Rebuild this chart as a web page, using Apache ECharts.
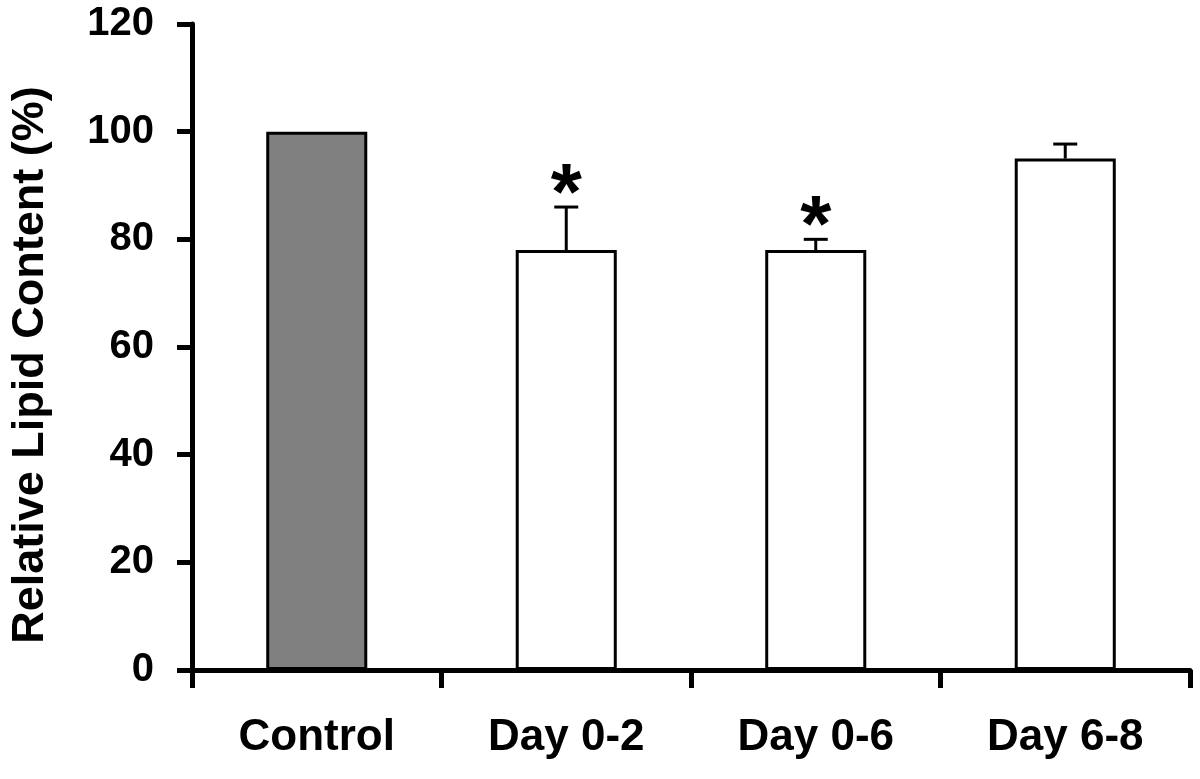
<!DOCTYPE html>
<html>
<head>
<meta charset="utf-8">
<script src="https://cdn.jsdelivr.net/npm/echarts@6/dist/echarts.min.js"></script>
<style>
html,body{margin:0;padding:0;background:#fff;}
#chart{width:1200px;height:779px;}
</style>
</head>
<body>
<div id="chart"></div>
<script>
var categories = ['Control', 'Day 0-2', 'Day 0-6', 'Day 6-8'];
var values = [100, 78, 78, 95];
var errors = [0, 8, 2, 2.7];
var marks = ['', '*', '*', ''];
var barColors = ['#808080', '#ffffff', '#ffffff', '#ffffff'];
var yTicks = [0, 20, 40, 60, 80, 100, 120];

var FONT = "'Liberation Sans', Arial, sans-serif";
var chart = echarts.init(document.getElementById('chart'), null, {renderer: 'canvas'});

var errData = categories.map(function (c, i) { return [i, values[i], errors[i]]; });

chart.setOption({
  animation: false,
  backgroundColor: '#ffffff',
  grid: {left: 187, right: 10, top: 24, bottom: 109, containLabel: false},
  xAxis: {
    type: 'category',
    data: categories,
    boundaryGap: true,
    axisLine: {lineStyle: {color: '#000', width: 5}},
    axisTick: {show: true, length: 18, lineStyle: {color: '#000', width: 5}},
    axisLabel: {color: '#000', fontFamily: FONT, fontWeight: 'bold', fontSize: 44, margin: 46}
  },
  yAxis: {
    type: 'value',
    min: yTicks[0],
    max: yTicks[yTicks.length - 1],
    interval: 20,
    name: 'Relative Lipid Content (%)',
    nameLocation: 'middle',
    nameRotate: 90,
    nameGap: 139,
    nameTextStyle: {color: '#000', fontFamily: FONT, fontWeight: 'bold', fontSize: 45, padding: [0, 36, 0, 0]},
    splitLine: {show: false},
    axisLine: {show: true, lineStyle: {color: '#000', width: 5}},
    axisTick: {show: true, length: 15, lineStyle: {color: '#000', width: 5}},
    axisLabel: {color: '#000', fontFamily: FONT, fontWeight: 'bold', fontSize: 40, margin: 38}
  },
  series: [
    {
      type: 'bar',
      barWidth: '40.5%',
      data: values.map(function (v, i) {
        return {value: v, itemStyle: {color: barColors[i]}};
      }),
      itemStyle: {borderColor: '#000', borderWidth: 3}
    },
    {
      type: 'custom',
      data: errData,
      z: 5,
      renderItem: function (params, api) {
        var i = api.value(0), v = api.value(1), e = api.value(2);
        var mark = marks[i];
        var base = api.coord([i, v]);
        var top = api.coord([i, v + e]);
        var children = [];
        if (e > 0) {
          children.push({type: 'line', shape: {x1: base[0], y1: base[1], x2: top[0], y2: top[1]},
            style: {stroke: '#000', lineWidth: 3}});
          children.push({type: 'line', shape: {x1: top[0] - 12, y1: top[1], x2: top[0] + 12, y2: top[1]},
            style: {stroke: '#000', lineWidth: 3}});
        }
        if (mark) {
          children.push({type: 'text', x: top[0], y: top[1] - 10,
            style: {text: mark, fill: '#000', font: 'bold 80px ' + FONT, align: 'center', verticalAlign: 'middle'}});
        }
        return {type: 'group', children: children};
      }
    }
  ]
});
</script>
</body>
</html>
